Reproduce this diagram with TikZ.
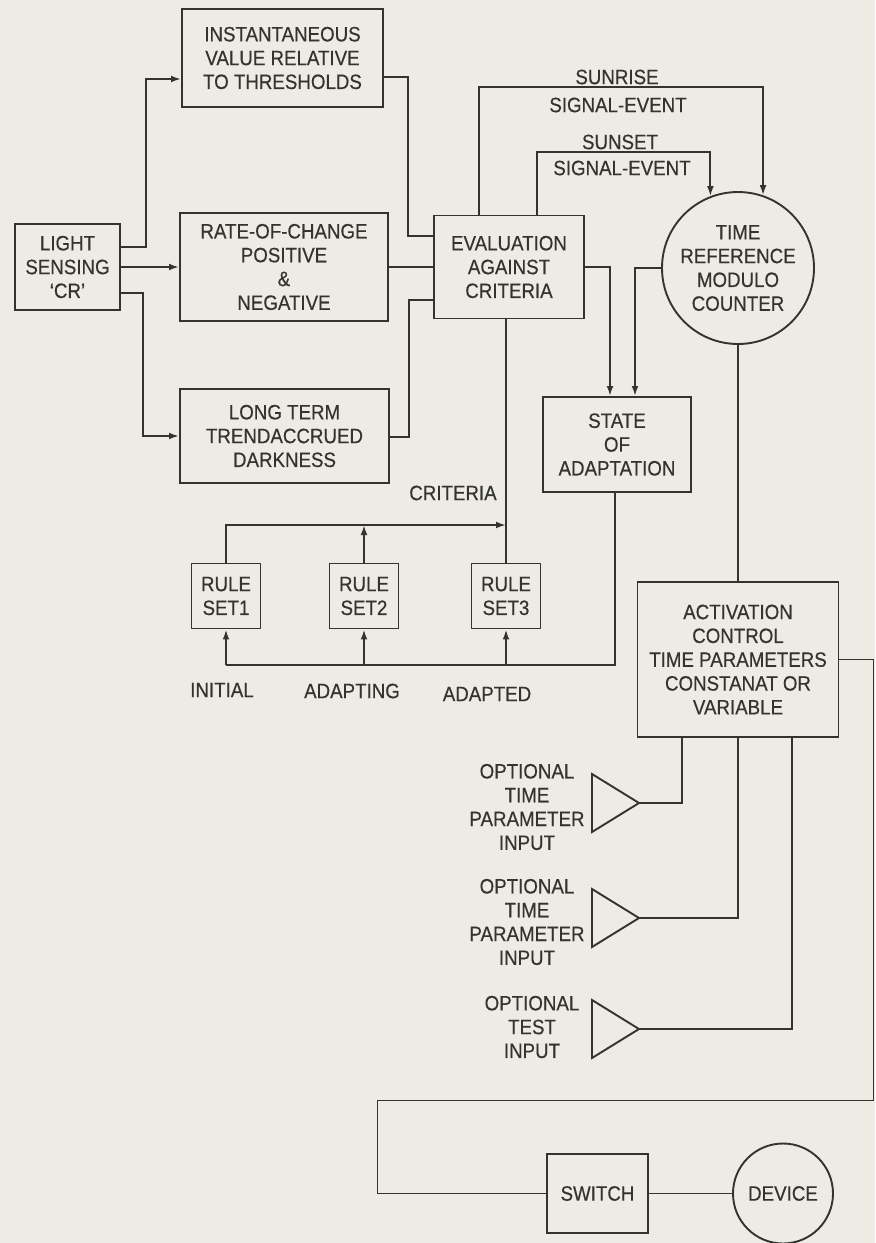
\documentclass[tikz,border=0pt]{standalone}
\usepackage{fontspec}
\setmainfont{Liberation Sans}[FakeStretch=0.9,FakeBold=0.4]
\usetikzlibrary{arrows.meta,calc}
\definecolor{PaperTone}{HTML}{EDEBE3}
\definecolor{InkGray}{HTML}{33332F}

\begin{document}
\begin{tikzpicture}[x=0.5pt,y=-0.5pt,>={Latex[length=5pt,width=3.4pt]},
  every node/.style={font=\fontsize{10.4}{11.9}\selectfont,text=InkGray,align=center,inner sep=0pt},
  blk/.style={draw=InkGray,line width=0.95pt},
  ring/.style={draw=InkGray,line width=0.95pt,circle},
  rule/.style={blk,minimum width=34.5pt,minimum height=32.5pt},
  wire/.style={draw=InkGray,line width=0.95pt}]
\fill[PaperTone] (0,0) rectangle (875,1243);
\useasboundingbox (0,0) rectangle (875,1243);

% sensing and the three measures
\node[blk,minimum width=52.5pt,minimum height=43pt] (light) at (67.5,267) {LIGHT\\SENSING\\`CR'};
\node[blk,minimum width=100.5pt,minimum height=49pt] (inst) at (282.5,58) {INSTANTANEOUS\\VALUE RELATIVE\\TO THRESHOLDS};
\node[blk,minimum width=104pt,minimum height=54pt] (rate) at (284,267) {RATE-OF-CHANGE\\POSITIVE\\\&\\NEGATIVE};
\node[blk,minimum width=104.5pt,minimum height=47pt] (long) at (284.5,436) {LONG TERM\\TRENDACCRUED\\DARKNESS};

% evaluation, time reference, adaptation
\node[blk,minimum width=75pt,minimum height=51.5pt] (eval) at (509,267) {EVALUATION\\AGAINST\\CRITERIA};
\node[ring,minimum size=76pt] (trc) at (738,268) {TIME\\REFERENCE\\MODULO\\COUNTER};
\node[blk,minimum width=74pt,minimum height=47.5pt] (state) at (617,444.5) {STATE\\OF\\ADAPTATION};
\foreach \n/\x in {1/226,2/364,3/506}
  \node[rule] (rs\n) at (\x,596) {RULE\\SET\n};

% activation and outputs
\node[blk,minimum width=100.5pt,minimum height=77.5pt] (act) at (738,659.5) {ACTIVATION\\CONTROL\\TIME PARAMETERS\\CONSTANAT OR\\VARIABLE};
\node[blk,minimum width=50.5pt,minimum height=39.5pt] (sw) at (597.5,1193.5) {SWITCH};
\node[ring,minimum size=50pt] (dev) at (783,1193.5) {DEVICE};
\foreach \n/\y in {1/803,2/918,3/1029} {
  \coordinate (t\n) at (639,\y);
  \draw[wire] (t\n) -- ++(-47,-29) -- ++(0,58) -- cycle;
}

% labels
\node (srA) at (617,77) {SUNRISE};
\node (srB) at (618,105) {SIGNAL-EVENT};
\node (ssA) at (620,142) {SUNSET};
\node (ssB) at (622,168) {SIGNAL-EVENT};
\node (crit) at (453,493) {CRITERIA};
\node (lini) at (222,690) {INITIAL};
\node (ladg) at (352,691) {ADAPTING};
\node (ladd) at (487,694) {ADAPTED};
\node (opt1) at (527,807) {OPTIONAL\\TIME\\PARAMETER\\INPUT};
\node (opt2) at (527,922) {OPTIONAL\\TIME\\PARAMETER\\INPUT};
\node (opt3) at (532,1027) {OPTIONAL\\TEST\\INPUT};

% connectors
\draw[wire,->] ($(light.east)+(0,-20)$) -- ++(25,0) |- ($(inst.west)+(0,21)$);
\draw[wire,->] (light.east) -- (rate.west);
\draw[wire,->] ($(light.east)+(0,26)$) -- ++(22,0) |- (long.west);
\draw[wire] ($(inst.east)+(0,19)$) -- ++(24,0) |- ($(eval.west)+(0,-31)$);
\draw[wire] (rate.east) -- (eval.west);
\draw[wire] ($(long.east)+(0,1)$) -- ++(19,0) |- ($(eval.west)+(0,33)$);
\draw[wire,->] ($(eval.north)+(-30,0)$) -- ++(0,-128) -| (trc.71);
\draw[wire,->] ($(eval.north)+(28,0)$) -- ++(0,-63) -| (trc.111);
\draw[wire,->] (eval.east) -| ($(state.north)+(-7,0)$);
\draw[wire,->] (trc.west) -| ($(state.north)+(18,0)$);
\draw[wire] (trc.south) -- (act.north);
\draw[wire] ($(eval.south)+(-3,0)$) -- (rs3.north);
\coordinate (cj) at (506,525);
\draw[wire,->] (rs1.north) |- (cj);
\draw[wire,->] (rs2.north) -- (rs2.north |- cj);
\coordinate (bl) at (226,665);
\draw[wire] ($(state.south)+(-2,0)$) |- (bl);
\foreach \n in {1,2,3}
  \draw[wire,->] (rs\n.south |- bl) -- (rs\n.south);
\draw[wire] ($(act.south)+(-56,0)$) |- (t1);
\draw[wire] (act.south) |- (t2);
\draw[wire] ($(act.south)+(54,0)$) |- (t3);
\draw[wire] (act.east) -- ++(34,0) -- ++(0,441) -- ++(-496,0) |- (sw.west);
\draw[wire] (sw.east) -- (dev.west);
\end{tikzpicture}
\end{document}
